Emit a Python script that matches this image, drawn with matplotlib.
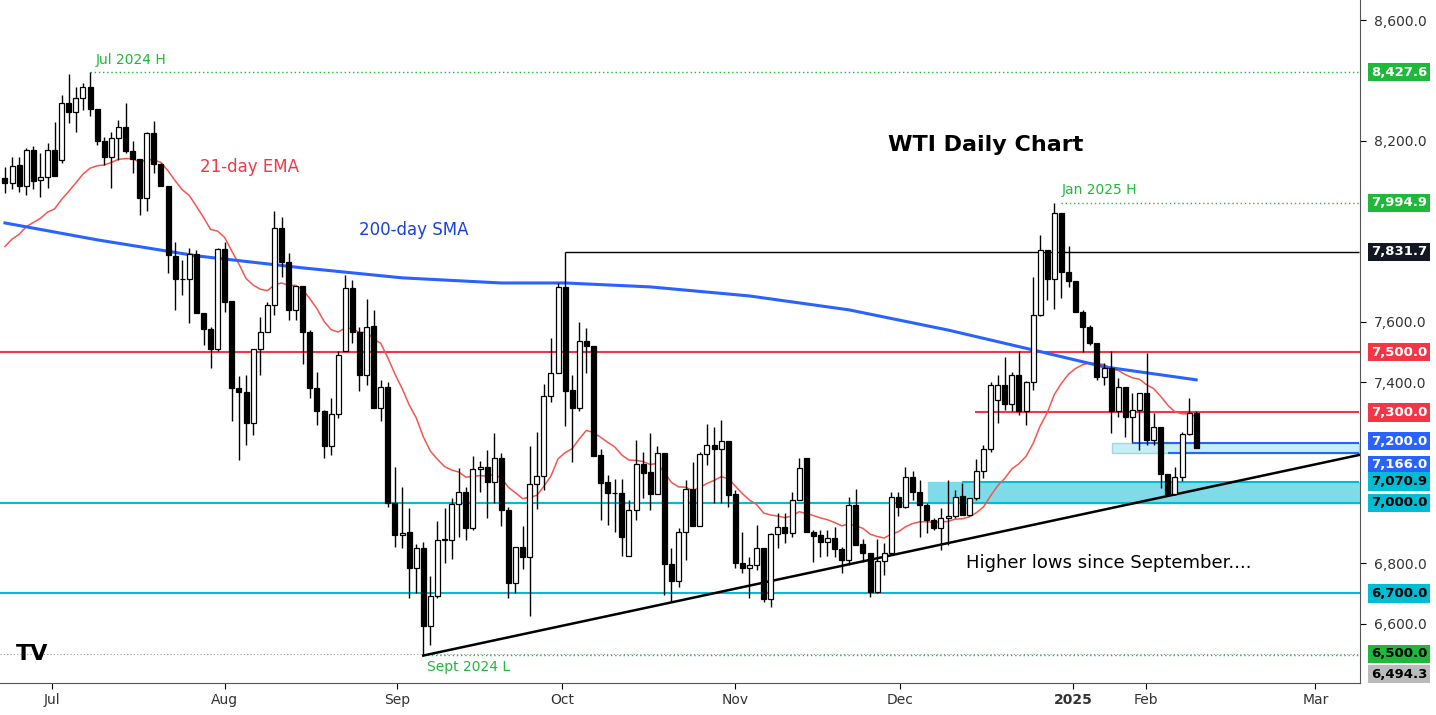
import matplotlib
matplotlib.use("Agg")
import matplotlib.pyplot as plt
from matplotlib.patches import Rectangle

# OHLC (WTI, late Jun 2024 - mid Feb 2025)
opens = [8076, 8062, 8119, 8049, 8170, 8071, 8079, 8170, 8137, 8325, 8297, 8341, 8380, 8305, 8200, 8148, 8209, 8245,
         8167, 8140, 8010, 8225, 8123, 8051, 7820, 7741, 7741, 7824, 7629, 7576, 7509, 7842, 7670, 7382, 7367, 7264,
         7509, 7568, 7656, 7910, 7797, 7640, 7720, 7565, 7380, 7306, 7190, 7294, 7502, 7712, 7565, 7424, 7587, 7316,
         7383, 6999, 6894, 6902, 6783, 6850, 6592, 6692, 6877, 6877, 6997, 7035, 6916, 7112, 7118, 7068, 7148, 6977,
         6736, 6853, 6820, 7063, 7090, 7355, 7430, 7715, 7374, 7314, 7537, 7520, 7159, 7068, 7032, 7032, 6824, 6977,
         7129, 7104, 7030, 7165, 6797, 6742, 6903, 7045, 6924, 7162, 7192, 7178, 7205, 7028, 6802, 6783, 6793, 6850,
         6681, 6896, 6921, 6899, 7010, 7148, 6905, 6893, 6872, 6883, 6846, 6811, 6993, 6863, 6833, 6706, 6808, 6835,
         7021, 6986, 7087, 7037, 6993, 6944, 6916, 6949, 6955, 7023, 6960, 7015, 7107, 7178, 7340, 7391, 7327, 7424,
         7303, 7400, 7623, 7839, 7741, 7962, 7764, 7734, 7632, 7582, 7531, 7417, 7446, 7303, 7383, 7286, 7308, 7364,
         7207, 7251, 7096, 7030, 7085, 7228, 7297]
highs = [8115, 8145, 8148, 8176, 8183, 8159, 8192, 8264, 8352, 8422, 8380, 8393, 8427, 8305, 8214, 8231, 8270, 8325,
         8198, 8140, 8231, 8266, 8126, 8051, 7866, 7805, 7844, 7839, 7629, 7584, 7844, 7866, 7670, 7419, 7424, 7509,
         7617, 7667, 7966, 7949, 7827, 7720, 7720, 7574, 7435, 7308, 7347, 7502, 7756, 7739, 7582, 7675, 7640, 7408,
         7402, 7120, 7054, 6982, 6864, 6872, 6758, 6941, 6982, 7015, 7115, 7054, 7154, 7140, 7176, 7233, 7167, 6988,
         6853, 6922, 7187, 7236, 7394, 7546, 7728, 7831, 7424, 7601, 7579, 7520, 7178, 7093, 7078, 7078, 7008, 7209,
         7170, 7233, 7187, 7165, 6850, 6916, 7076, 7137, 7170, 7262, 7251, 7275, 7205, 7043, 6903, 6822, 6927, 6850,
         6899, 6968, 6968, 7037, 7148, 7148, 6910, 6910, 6910, 6921, 6855, 7019, 7045, 6880, 6833, 6880, 6866, 7037,
         7037, 7120, 7107, 7076, 7000, 6950, 6982, 7076, 7043, 7065, 7015, 7145, 7192, 7400, 7424, 7485, 7435, 7504,
         7404, 7748, 7888, 7839, 7995, 7962, 7852, 7734, 7640, 7590, 7531, 7463, 7504, 7413, 7383, 7364, 7364, 7496,
         7297, 7251, 7096, 7120, 7234, 7347, 7306]
lows = [8026, 8040, 8032, 8021, 8040, 8013, 8043, 8082, 8128, 8259, 8228, 8303, 8283, 8187, 8120, 8043, 8137, 8159,
        8093, 7955, 7966, 8093, 8049, 7761, 7640, 7690, 7596, 7629, 7524, 7446, 7502, 7634, 7270, 7142, 7192, 7225,
        7424, 7568, 7623, 7750, 7607, 7607, 7461, 7347, 7258, 7148, 7159, 7281, 7502, 7531, 7372, 7391, 7316, 7270,
        6988, 6855, 6850, 6684, 6700, 6494, 6529, 6684, 6802, 6813, 6888, 6877, 6910, 7035, 6949, 6999, 6922, 6684,
        6700, 6780, 6625, 6979, 7043, 7336, 7430, 7256, 7137, 7306, 7430, 7154, 6944, 6927, 6905, 6824, 6824, 6944,
        7015, 6975, 7030, 6695, 6670, 6722, 6811, 6924, 6924, 7126, 6999, 6999, 6988, 6783, 6767, 6684, 6778, 6673,
        6654, 6850, 6866, 6888, 7010, 6905, 6805, 6822, 6824, 6822, 6769, 6794, 6861, 6805, 6689, 6700, 6761, 6835,
        6955, 6982, 7010, 6888, 6900, 6910, 6844, 6860, 6949, 6960, 6955, 7010, 7082, 7170, 7265, 7308, 7303, 7292,
        7258, 7375, 7618, 7673, 7642, 7678, 7715, 7632, 7500, 7524, 7408, 7391, 7231, 7286, 7220, 7203, 7176, 7192,
        7192, 7049, 7026, 7026, 7071, 7225, 7181]
closes = [8060, 8118, 8049, 8170, 8068, 8079, 8170, 8082, 8325, 8297, 8341, 8380, 8305, 8198, 8148, 8209, 8245, 8165,
          8140, 8010, 8225, 8123, 8049, 7822, 7741, 7741, 7824, 7629, 7576, 7509, 7842, 7667, 7382, 7366, 7264, 7509,
          7568, 7656, 7910, 7797, 7640, 7720, 7565, 7380, 7306, 7190, 7294, 7491, 7712, 7565, 7424, 7584, 7316, 7383,
          6999, 6894, 6900, 6783, 6850, 6592, 6692, 6877, 6877, 6997, 7035, 6916, 7112, 7118, 7068, 7148, 6975, 6736,
          6853, 6820, 7063, 7090, 7355, 7430, 7715, 7372, 7314, 7537, 7520, 7157, 7067, 7032, 7032, 6888, 6977, 7129,
          7100, 7030, 7165, 6797, 6742, 6903, 7045, 6924, 7162, 7192, 7178, 7205, 7026, 6802, 6783, 6793, 6850, 6681,
          6896, 6921, 6899, 7010, 7115, 6905, 6891, 6872, 6883, 6846, 6811, 6993, 6861, 6833, 6706, 6808, 6835, 7021,
          6986, 7087, 7037, 6993, 6944, 6916, 6949, 6955, 7021, 6960, 7015, 7107, 7178, 7391, 7391, 7327, 7424, 7303,
          7400, 7623, 7839, 7741, 7962, 7764, 7734, 7632, 7582, 7531, 7417, 7446, 7303, 7383, 7286, 7308, 7364, 7207,
          7251, 7096, 7030, 7085, 7228, 7297, 7181]

ema_seed = 7829  # 21-day EMA value at the left edge

# 200-day SMA samples (candle index, value)
sma_idx = [0, 13, 27, 42, 56, 70, 79, 91, 105, 119, 133, 145, 155, 168]
sma_val = [7928, 7872, 7819, 7779, 7746, 7729, 7729, 7716, 7686, 7640, 7573, 7507, 7451, 7408]

month_labels = ["Jul", "Aug", "Sep", "Oct", "Nov", "Dec", "2025", "Feb", "Mar"]
month_idx = [6.6, 31.0, 55.3, 78.6, 103.0, 126.2, 150.6, 160.9, 184.8]
ytick_vals = [6600, 6800, 7400, 7600, 8200, 8600]

GREEN = "#1fb83a"
RED = "#f23645"
TEAL = "#00bcd4"
BLUE = "#2962ff"

fig = plt.figure(figsize=(14.36, 7.15), dpi=100)
ax = fig.add_axes([0, 32 / 715, 1360 / 1436, 683 / 715])
ax.set_xlim(-0.7, 191.1)
ax.set_ylim(6403, 8667)

# EMA computed from closes
alpha = 2 / 22
ema = []
prev = ema_seed
for c in closes:
    prev = prev + alpha * (c - prev)
    ema.append(prev)

# zones
ax.add_patch(Rectangle((130.2, 7000), 191 - 130.2, 70.9, color="#7fdbe8", zorder=1))
ax.add_patch(Rectangle((156.1, 7166), 191 - 156.1, 34, facecolor="#c5eef5", edgecolor="#9fd8e4", zorder=1))

n = len(closes)
# horizontal levels
ax.axhline(7500, color=RED, lw=1.5, zorder=2)
ax.axhline(7000, color=TEAL, lw=1.5, zorder=2)
ax.axhline(6700, color=TEAL, lw=1.5, zorder=2)
ax.axhline(6500, color="#999999", lw=0.8, ls=(0, (1, 2)), zorder=2)
ax.hlines(7300, 136.8, 191, color=RED, lw=1.5, zorder=2)
ax.hlines(7070.9, 135, 191, color=TEAL, lw=1.5, zorder=2)
ax.hlines(7200, 159, 191, color=BLUE, lw=1.5, zorder=2)
ax.hlines(7166, 164, 191, color=BLUE, lw=1.5, zorder=2)
ax.hlines(8427.6, 12, 191, color=GREEN, lw=1, ls=(0, (1, 2)), zorder=2)
ax.hlines(7994.9, 149, 191, color=GREEN, lw=1, ls=(0, (1, 2)), zorder=2)
ax.hlines(7831.7, 79, 191, color="black", lw=1, zorder=2)
ax.hlines(6494.3, 59, 191, color=GREEN, lw=1, ls=(0, (1, 2)), zorder=2)

# trendline from Sept low
ax.plot([59, 191], [6494, 7159], color="black", lw=1.8, zorder=3)

ax.plot(range(n), ema, color="#f5554f", lw=1.1, zorder=4)
ax.plot(sma_idx, sma_val, color=BLUE, lw=2.2, zorder=4)

# candles
for i in range(n):
    o, h, l, c = opens[i], highs[i], lows[i], closes[i]
    ax.vlines(i, l, h, color="black", lw=1, zorder=5)
    up = c >= o
    ax.add_patch(Rectangle((i - 0.35, min(o, c)), 0.7, max(abs(c - o), 2),
                           facecolor="white" if up else "black", edgecolor="black", lw=0.9, zorder=6))

# annotations
ax.text(12.8, 8468, "Jul 2024 H", color=GREEN, fontsize=10, va="center")
ax.text(27.5, 8114, "21-day EMA", color=RED, fontsize=12, va="center")
ax.text(50, 7905, "200-day SMA", color="#1a3ee0", fontsize=12, va="center")
ax.text(124.5, 8185, "WTI Daily Chart", color="black", fontsize=16, fontweight="bold", va="center")
ax.text(149, 8038, "Jan 2025 H", color=GREEN, fontsize=10, va="center")
ax.text(135.5, 6801, "Higher lows since September....", color="black", fontsize=13, va="center")
ax.text(59.5, 6456, "Sept 2024 L", color=GREEN, fontsize=10, va="center")
ax.text(1.5, 6500, "TV", color="black", fontsize=16, fontweight="bold", va="center")

# price axis
for s in ["top", "left"]:
    ax.spines[s].set_visible(False)
ax.spines["right"].set_color("#555555")
ax.spines["bottom"].set_color("#555555")
ax.yaxis.tick_right()
ax.set_yticks(ytick_vals)
ax.set_yticklabels([f"{v:,.1f}" for v in ytick_vals], fontsize=10, color="#333333")
ax.tick_params(axis="y", length=4, pad=6)
ax.set_xticks(month_idx)
ax.set_xticklabels(month_labels, fontsize=10, color="#333333")
ax.get_xticklabels()[6].set_fontweight("bold")
ax.tick_params(axis="x", length=4)

# price tags on the axis (value, background, text colour, label offset)
tags = [(8427.6, "#1fb83a", "white", 0), (7994.9, "#1fb83a", "white", 0), (7831.7, "#131722", "white", 0),
        (7500, RED, "white", 0), (7300, RED, "white", 0), (7200, BLUE, "white", 5), (7166, BLUE, "white", -40),
        (7070.9, TEAL, "black", 0), (7000, TEAL, "black", 0), (6700, TEAL, "black", 0),
        (6500, "#1fb83a", "black", 0), (6494.3, "#bbbbbb", "black", -62)]
for val, bg, fg, off in tags:
    ax.text(1.008, val + off, f"{val:,.1f}", transform=ax.get_yaxis_transform(), fontsize=9.5,
            color=fg, fontweight="bold", va="center", ha="left",
            bbox=dict(boxstyle="square,pad=0.2", facecolor=bg, edgecolor="none"), clip_on=False)

fig.savefig("out.png", dpi=100)
